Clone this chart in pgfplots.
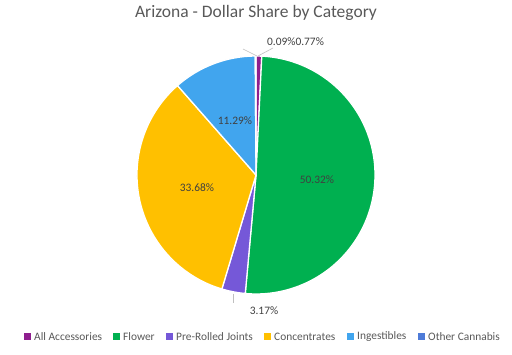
\documentclass[border=0pt]{standalone}
\usepackage{pgfplots}
\pgfplotsset{compat=1.18}
\usepackage{fontspec}
\setmainfont{Carlito}
\definecolor{cAcc}{HTML}{8E1E8E}
\definecolor{cFlw}{HTML}{00B050}
\definecolor{cPre}{HTML}{7558D8}
\definecolor{cCon}{HTML}{FFC000}
\definecolor{cIng}{HTML}{41A5EE}
\definecolor{cOth}{HTML}{4E7BD8}
\definecolor{ttl}{HTML}{595959}
\definecolor{lbl}{HTML}{404040}
\definecolor{ldr}{HTML}{BFBFBF}
\begin{document}
\begin{tikzpicture}
\useasboundingbox (0,0) rectangle (512bp,355bp);
\fill[white] (0,0) rectangle (512bp,355bp);
\begin{axis}[at={(0,0)},anchor=south west,width=512bp,height=355bp,scale only axis,hide axis,
  xmin=0,xmax=512,ymin=0,ymax=355,clip=false]
% shares (percent), clockwise from 12 o'clock
\xdef\angA{90}
\foreach \v/\c in {0.77/cAcc,50.32/cFlw,3.17/cPre,33.68/cCon,11.29/cIng,0.09/cOth}{
  \pgfmathsetmacro\angB{\angA-3.6*\v/0.9932}
  \pgfmathsetmacro\xs{256+119*cos(\angA)}
  \pgfmathsetmacro\ys{180+119*sin(\angA)}
  \edef\tmp{\noexpand\filldraw[fill=\c,draw=white,line width=1.3pt,line join=round] (axis cs:256,180) -- (axis cs:\xs,\ys) arc[start angle=\angA,end angle=\angB,radius=119bp] -- cycle;}
  \tmp
  \xdef\angA{\angB}
}
% title
\node[text=ttl,font=\fontsize{17.5bp}{20bp}\selectfont] at (axis cs:256,342) {Arizona - Dollar Share by Category};
% data labels
\begin{scope}[every node/.style={text=lbl,font=\fontsize{11.4bp}{13bp}\selectfont}]
\node at (axis cs:317,175) {50.32\%};
\node at (axis cs:197,167) {33.68\%};
\node at (axis cs:235,234) {11.29\%};
\node at (axis cs:264,44) {3.17\%};
\node[anchor=west,inner sep=0pt] at (axis cs:267,313) {0.09\%0.77\%};
\end{scope}
\draw[ldr,line width=0.6pt] (axis cs:233,61) -- (axis cs:233,52);
\draw[ldr,line width=0.6pt] (axis cs:257,299) -- (axis cs:243,306);
\draw[ldr,line width=0.6pt] (axis cs:258,299) -- (axis cs:273,307);
% legend
\begin{scope}[every node/.style={text=ttl,anchor=west,inner sep=0pt,font=\fontsize{11.4bp}{13bp}\selectfont}]
\foreach \x/\c/\t in {24/cAcc/All Accessories,113/cFlw/Flower,166/cPre/Pre-Rolled Joints,264/cCon/Concentrates,347/cIng/Ingestibles,418/cOth/Other Cannabis}{
  \pgfmathsetmacro\xb{\x+7}
  \pgfmathsetmacro\xt{\x+10}
  \edef\tmp{\noexpand\fill[\c] (axis cs:\x,15) rectangle (axis cs:\xb,22);
  \noexpand\node at (axis cs:\xt,18.5) {\t};}
  \tmp
}
\end{scope}
\end{axis}
\end{tikzpicture}
\end{document}
